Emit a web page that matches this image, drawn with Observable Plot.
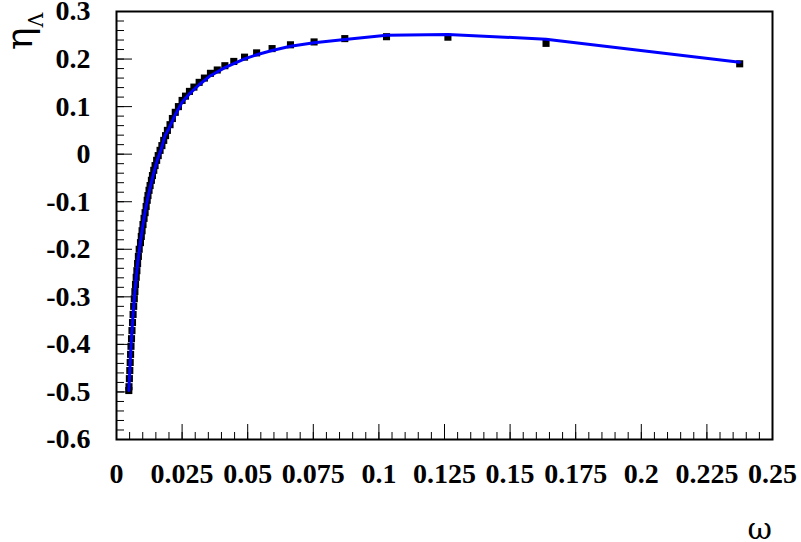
<!DOCTYPE html>
<html><head><meta charset="utf-8">
<script src="https://cdn.jsdelivr.net/npm/d3@7"></script>
<script src="https://cdn.jsdelivr.net/npm/@observablehq/plot@0.6"></script>
<style>body{margin:0;background:#fff}</style>
</head><body><div id="chart"></div>
<script>
const omegaPts = [0.00469,0.00476,0.00491,0.00507,0.00522,0.00537,0.00552,0.00572,0.0059,0.0061,
  0.00632,0.00655,0.00678,0.00701,0.00724,0.00751,0.00777,0.00804,0.00834,0.00865,
  0.00914,0.00945,0.00975,0.0101,0.0105,0.0109,0.0113,0.0117,0.0120,0.0124,
  0.0128,0.0133,0.0137,0.0142,0.0147,0.0153,0.0159,0.0166,0.0173,0.0180,
  0.0187,0.0194,0.0204,0.0213,0.0224,0.0236,0.0250,0.0263,0.0278,0.0295,
  0.0315,0.0335,0.0358,0.0384,0.0413,0.0447,0.0488,0.0534,0.0593,0.0663,
  0.0753,0.0870,0.1029,0.1263,0.1637,0.2375];
const etaPts = [-0.497,-0.489,-0.472,-0.455,-0.438,-0.421,-0.404,-0.388,-0.371,-0.354,
  -0.337,-0.320,-0.304,-0.289,-0.274,-0.259,-0.245,-0.230,-0.215,-0.200,
  -0.186,-0.173,-0.161,-0.148,-0.135,-0.123,-0.110,-0.097,-0.087,-0.076,
  -0.066,-0.055,-0.045,-0.034,-0.024,-0.013,-0.003,0.008,0.018,0.029,
  0.039,0.050,0.062,0.075,0.088,0.100,0.113,0.122,0.132,0.141,
  0.151,0.160,0.170,0.177,0.186,0.195,0.204,0.213,0.222,0.230,
  0.236,0.243,0.247,0.246,0.233,0.190];

const omegaFit = [0.0047,0.0050,0.0055,0.0060,0.0065,0.0070,0.0080,0.0090,0.0100,0.0110,
  0.0120,0.0130,0.0140,0.0155,0.0170,0.0185,0.0200,0.0225,0.0250,0.0280,
  0.0315,0.0358,0.0413,0.0488,0.0534,0.0593,0.0663,0.0753,0.0870,0.1029,
  0.1263,0.1637,0.2375];
const etaFit = [-0.497,-0.462,-0.406,-0.362,-0.323,-0.289,-0.232,-0.190,-0.151,-0.118,
  -0.090,-0.066,-0.043,-0.013,0.010,0.039,0.054,0.084,0.109,0.128,
  0.146,0.165,0.182,0.2005,0.209,0.218,0.227,0.2342,0.2411,0.250,
  0.2516,0.2418,0.1934];

const xTicks = [0,0.025,0.05,0.075,0.1,0.125,0.15,0.175,0.2,0.225,0.25];
const xTickLabels = ["0","0.025","0.05","0.075","0.1","0.125","0.15","0.175","0.2","0.225","0.25"];
const yTicks = [-0.6,-0.5,-0.4,-0.3,-0.2,-0.1,0,0.1,0.2,0.3];
const yTickLabels = ["-0.6","-0.5","-0.4","-0.3","-0.2","-0.1","0","0.1","0.2","0.3"];
const xTitle = "ω";
const yTitle = "η";
const yTitleSub = "Λ";

const W = 801, H = 542, mL = 116, mR = 29, mT = 11, mB = 103;
const plotW = W - mL - mR, plotH = H - mT - mB;
const FONT = "Liberation Serif";
const GREEK = "DejaVu Serif";

const xMinor = d3.range(0, 51).map(i => i * 0.005).filter(v => v > 0.0001 && v < 0.2499);
const yMinor = d3.range(0, 46).map(i => -0.6 + i * 0.02).filter(v => v > -0.5999 && v < 0.2999);

const points = omegaPts.map((x, i) => ({x, y: etaPts[i]}));
const fit = omegaFit.map((x, i) => ({x, y: etaFit[i]}));
const xLabData = xTicks.map((t, i) => ({t, label: xTickLabels[i]}));
const yLabData = yTicks.map((t, i) => ({t, label: yTickLabels[i]}));

const svg = Plot.plot({
  width: W, height: H,
  marginLeft: mL, marginRight: mR, marginTop: mT, marginBottom: mB,
  style: {background: "white", color: "black"},
  x: {domain: [0, 0.25], axis: null},
  y: {domain: [-0.6, 0.3], axis: null},
  marks: [
    Plot.tickX(xMinor, {x: d => d, stroke: "black", strokeWidth: 1, insetTop: plotH - 7}),
    Plot.tickX(xTicks, {x: d => d, stroke: "black", strokeWidth: 1, insetTop: plotH - 15}),
    Plot.tickY(yMinor, {y: d => d, stroke: "black", strokeWidth: 1, insetRight: plotW - 8}),
    Plot.tickY(yTicks, {y: d => d, stroke: "black", strokeWidth: 1, insetRight: plotW - 16}),
    Plot.text(xLabData, {x: "t", frameAnchor: "bottom", text: "label", dy: 24, lineAnchor: "top",
      fontSize: 28, fontWeight: "bold", fontFamily: FONT, fill: "black"}),
    Plot.text(yLabData, {y: "t", frameAnchor: "left", text: "label", dx: -26, textAnchor: "end", lineAnchor: "middle",
      fontSize: 28, fontWeight: "bold", fontFamily: FONT, fill: "black"}),
    Plot.dot(points, {x: "x", y: "y", symbol: "square", r: 4, fill: "black", stroke: "none"}),
    Plot.line(fit, {x: "x", y: "y", stroke: "#0000ff", strokeWidth: 3}),
    Plot.frame({stroke: "black", strokeWidth: 2})
  ]
});

const s = d3.select(svg);
s.append("text")
  .attr("x", 772).attr("y", 539)
  .attr("text-anchor", "end")
  .attr("font-size", 30)
  .attr("fill", "black")
  .style("font-family", GREEK)
  .text(xTitle);
const yt = s.append("text")
  .attr("transform", "translate(32,50) rotate(-90)")
  .attr("text-anchor", "start")
  .attr("font-size", 38)
  .attr("fill", "black")
  .style("font-family", GREEK);
yt.append("tspan").text(yTitle);
yt.append("tspan").attr("font-size", 20).attr("dy", 11).text(yTitleSub);

document.getElementById("chart").appendChild(svg);
</script>
</body></html>
